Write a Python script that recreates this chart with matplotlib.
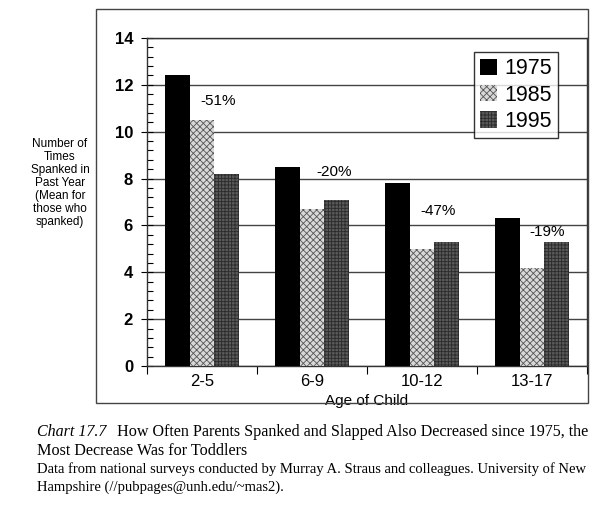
import matplotlib
matplotlib.use("Agg")
import matplotlib.pyplot as plt
import numpy as np
from matplotlib.patches import Rectangle
from matplotlib.ticker import MultipleLocator

categories = ["2-5", "6-9", "10-12", "13-17"]
years = ["1975", "1985", "1995"]
v1975 = [12.4, 8.5, 7.8, 6.3]
v1985 = [10.5, 6.7, 5.0, 4.2]
v1995 = [8.2, 7.1, 5.3, 5.3]
pct_labels = ["-51%", "-20%", "-47%", "-19%"]
pct_y = [11.3, 8.3, 6.6, 5.7]

plt.rcParams['font.family'] = ['Liberation Sans', 'DejaVu Sans']
plt.rcParams['hatch.linewidth'] = 0.6

fig = plt.figure(figsize=(6, 5.05), dpi=100)
ax = fig.add_axes([147/600, 1-366/505, (587-147)/600, (366-38)/505])

x = np.arange(len(categories))
w = 0.227
styles = [
    dict(color="black", edgecolor="black"),
    dict(color="#d8d8d8", edgecolor="#555555", hatch="xxxxx"),
    dict(color="#5a5a5a", edgecolor="#2a2a2a", hatch="+++++"),
]
series = [v1975, v1985, v1995]
handles = []
for k, (vals, st) in enumerate(zip(series, styles)):
    b = ax.bar(x + (k-1)*w, vals, w, label=years[k], linewidth=0, zorder=3, **st)
    handles.append(b)

for i, (lab, yy) in enumerate(zip(pct_labels, pct_y)):
    xo = [0.15, 0.2, 0.15, 0.14][i]
    ax.text(x[i] + xo, yy, lab, ha="center", va="center", fontsize=11, zorder=4)

ax.set_xlim(-0.5, 3.5)
ax.set_ylim(0, 14)
ax.yaxis.set_major_locator(MultipleLocator(2))
ax.yaxis.set_minor_locator(MultipleLocator(0.4))
ax.grid(axis="y", which="major", color="#444444", linewidth=1.0, zorder=1)
ax.set_yticks(range(0, 15, 2))
ax.set_yticklabels([str(v) for v in range(0, 15, 2)], fontsize=12, fontweight="bold")
ax.tick_params(axis="y", which="major", direction="inout", length=8, width=0.8, pad=6)
ax.tick_params(axis="y", which="minor", direction="in", length=4, width=0.8)
ax.set_xticks(np.arange(-0.5, 4, 1), minor=False)
ax.set_xticklabels([])
ax.set_xticks(x, minor=True)
ax.set_xticklabels(categories, minor=True, fontsize=12)
ax.tick_params(axis="x", which="major", direction="out", length=6, width=0.8)
ax.tick_params(axis="x", which="minor", length=0, pad=6)
for s in ax.spines.values():
    s.set_linewidth(1.0)
    s.set_color("#333333")

ax.set_xlabel("Age of Child", fontsize=11, labelpad=0)
ax.xaxis.set_label_coords(0.5, -0.085)

leg = ax.legend(handles=handles, labels=years, loc="upper right",
                bbox_to_anchor=(0.934, 0.958), fontsize=15.5, frameon=True,
                fancybox=False, edgecolor="black", handlelength=0.8,
                handleheight=0.8, handletextpad=0.3, borderpad=0.3,
                labelspacing=0.25, borderaxespad=0)
leg.get_frame().set_linewidth(1.0)

fig.text(60/600, 1-183/505,
         "Number of\nTimes\nSpanked in\nPast Year\n(Mean for\nthose who\nspanked)",
         ha="center", va="center", fontsize=8.5, linespacing=1.12)

# outer frame
fig.add_artist(Rectangle((96/600, 1-403/505), (588-96)/600, (403-9)/505,
                         transform=fig.transFigure, fill=False,
                         edgecolor="#444444", linewidth=1.0))

serif = ['Liberation Serif', 'DejaVu Serif']
fig.text(37/600, 1-432/505, "Chart 17.7", family=serif, style="italic",
         fontsize=11.5, va="center")
fig.text(117/600, 1-432/505,
         "How Often Parents Spanked and Slapped Also Decreased since 1975, the",
         family=serif, fontsize=11.6, va="center")
fig.text(37/600, 1-451/505, "Most Decrease Was for Toddlers",
         family=serif, fontsize=11.6, va="center")
fig.text(37/600, 1-469/505,
         "Data from national surveys conducted by Murray A. Straus and colleagues. University of New",
         family=serif, fontsize=10.5, va="center")
fig.text(37/600, 1-487/505, "Hampshire (//pubpages@unh.edu/~mas2).",
         family=serif, fontsize=10.5, va="center")

fig.savefig("out.png", dpi=100)
